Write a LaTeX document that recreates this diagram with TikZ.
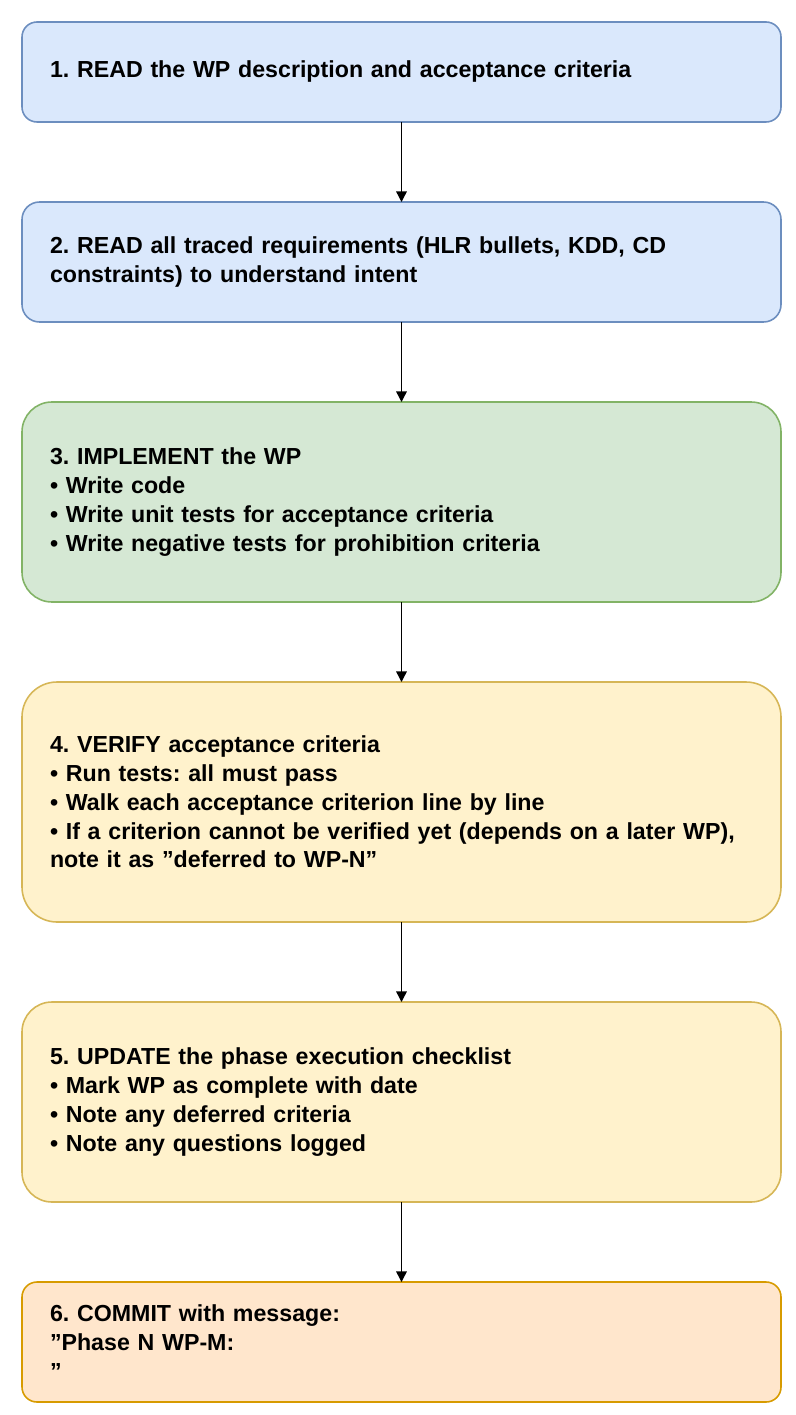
\documentclass[tikz,border=0pt]{standalone}
\usepackage{fontspec}
\setmainfont{Liberation Sans}
\usetikzlibrary{positioning,arrows.meta}
\definecolor{blueFill}{HTML}{DAE8FC}
\definecolor{blueLine}{HTML}{6C8EBF}
\definecolor{greenFill}{HTML}{D5E8D4}
\definecolor{greenLine}{HTML}{82B366}
\definecolor{yellowFill}{HTML}{FFF2CC}
\definecolor{yellowLine}{HTML}{D6B656}
\definecolor{orangeFill}{HTML}{FFE6CC}
\definecolor{orangeLine}{HTML}{D79B00}
\newcommand{\qq}{{\char34}}

\begin{document}
\frenchspacing
\begin{tikzpicture}[
    stepbox/.style={draw, line width=0.9pt, rectangle, anchor=north west, outer sep=0pt,
        minimum width=15.18cm, text width=14.06cm, inner xsep=0.56cm,
        align=left, font=\fontsize{13.2}{16.4}\selectfont\bfseries},
    flow/.style={-{Triangle[length=6pt,width=6pt]}, line width=0.8pt},
    node distance=1.6cm
]
    \useasboundingbox (0,0) rectangle (15.9,-28.3);

    % Read steps
    \node[stepbox, fill=blueFill, draw=blueLine, minimum height=2cm, rounded corners=0.3cm]
        (read) at (0.44,-0.44) {1. READ the WP description and acceptance criteria};
    \node[stepbox, fill=blueFill, draw=blueLine, minimum height=2.4cm, rounded corners=0.35cm,
        below=of read.south west, anchor=north west]
        (trace) {2. READ all traced requirements (HLR bullets, KDD, CD\\constraints) to understand intent};

    % Implementation
    \node[stepbox, fill=greenFill, draw=greenLine, minimum height=4cm, rounded corners=0.6cm,
        below=of trace.south west, anchor=north west]
        (impl) {3. IMPLEMENT the WP\\
        • Write code\\
        • Write unit tests for acceptance criteria\\
        • Write negative tests for prohibition criteria};

    % Verification and checklist
    \node[stepbox, fill=yellowFill, draw=yellowLine, minimum height=4.8cm, rounded corners=0.7cm,
        below=of impl.south west, anchor=north west]
        (verify) {4. VERIFY acceptance criteria\\
        • Run tests: all must pass\\
        • Walk each acceptance criterion line by line\\
        • If a criterion cannot be verified yet (depends on a later WP),\\
        note it as \qq deferred to WP-N\qq};
    \node[stepbox, fill=yellowFill, draw=yellowLine, minimum height=4cm, rounded corners=0.6cm,
        below=of verify.south west, anchor=north west]
        (update) {5. UPDATE the phase execution checklist\\
        • Mark WP as complete with date\\
        • Note any deferred criteria\\
        • Note any questions logged};

    % Commit
    \node[stepbox, fill=orangeFill, draw=orangeLine, minimum height=2.4cm, rounded corners=0.3cm,
        below=of update.south west, anchor=north west]
        (commit) {6. COMMIT with message:\\
        \qq Phase N WP-M:\\
        \qq};

    \foreach \a/\b in {read/trace, trace/impl, impl/verify, verify/update, update/commit}
        \draw[flow] (\a) -- (\b);
\end{tikzpicture}
\end{document}
